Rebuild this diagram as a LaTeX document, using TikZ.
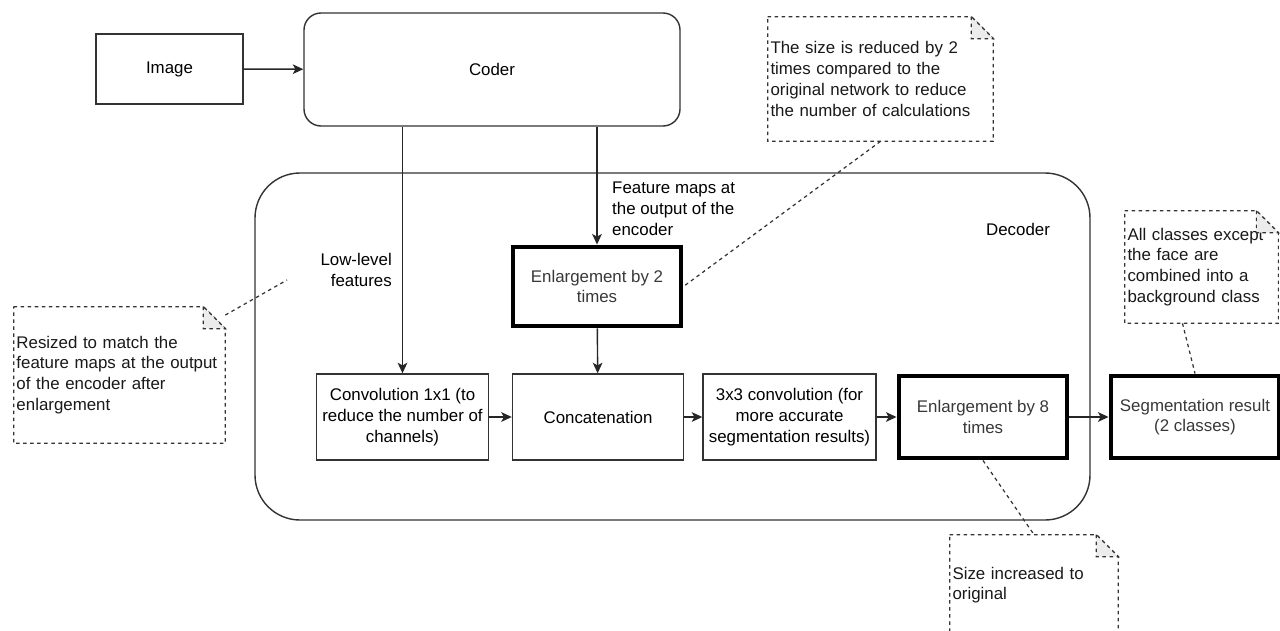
\documentclass[tikz,border=0pt]{standalone}
\usepackage{fontspec}
\setmainfont{Liberation Sans}
\usepackage{tikz}
\usetikzlibrary{arrows.meta}
\usetikzlibrary{calc}
\tikzset{every node/.style={font=\fontsize{9.6}{11.8}\selectfont}}
\tikzset{plainbox/.style={draw=black!80, line width=0.8pt, minimum width=3.42cm, minimum height=1.72cm, align=center}}
\tikzset{boldbox/.style={draw=black, line width=2.8pt, minimum width=3.36cm, minimum height=1.64cm, align=center, text=black!78}}
\tikzset{roundbox/.style={draw=black!80, line width=0.8pt, rounded corners=0.34cm, align=center}}
\tikzset{memo/.style={inner xsep=0.05cm, align=left, text=black!90}}
\tikzset{memoline/.style={draw=black!80, line width=0.7pt, dash pattern=on 2pt off 2pt}}
\tikzset{flow/.style={draw=black!85, line width=0.8pt, -{Stealth[length=6pt, width=5.5pt, inset=1.5pt]}}}

\begin{document}
\begin{tikzpicture}

\useasboundingbox (0, 0) rectangle (25.6, 12.6);

\node[roundbox, rounded corners=0.9cm, minimum width=16.7cm, minimum height=6.94cm] (decoder) at (13.45, 5.67) {};
\node[] (declab) at (20.36, 8.02) {Decoder};

\node[plainbox, minimum width=2.94cm, minimum height=1.4cm] (img) at (3.39, 11.22) {Image};
\node[roundbox, minimum width=7.52cm, minimum height=2.26cm] (coder) at (9.84, 11.21) {Coder};

\node[boldbox, minimum height=1.58cm] (enl2) at (11.94, 6.87) {Enlargement by 2\\times};
\node[plainbox] (conv1) at (8.05, 4.26) {Convolution 1x1 (to\\reduce the number of\\channels)};
\node[plainbox] (concat) at (11.96, 4.26) {Concatenation};
\node[plainbox] (conv3) at (15.79, 4.26) {3x3 convolution (for\\more accurate\\segmentation results)};
\node[boldbox] (enl8) at (19.66, 4.26) {Enlargement by 8\\times};
\node[boldbox] (seg) at (23.9, 4.26) {Segmentation result\\(2 classes)};

\node[anchor=east, align=right] (lowlab) at (7.96, 7.2) {Low-level\\features};
\node[anchor=west, align=left] (fmaps) at (12.12, 8.42) {Feature maps at\\the output of the\\encoder};
\coordinate (lowpt) at (5.74, 7.0);

\draw[flow] (img) to (coder);
\draw[flow] (conv1 |- coder.south) to (conv1.north);
\draw[flow] (enl2 |- coder.south) to (enl2.north);
\draw[flow] (enl2) to (concat);
\draw[flow] (conv1) to (concat);
\draw[flow] (concat) to (conv3);
\draw[flow] (conv3) to (enl8);
\draw[flow] (enl8) to (seg);

\node[memo, text width=4.4cm, minimum height=2.48cm] (noteA) at (17.61, 11.02) {The size is reduced by 2\\times compared to the\\original network to reduce\\the number of calculations};
\node[memo, text width=4.12cm, minimum height=2.72cm] (noteB) at (2.39, 5.1) {Resized to match the\\feature maps at the output\\of the encoder after\\enlargement};
\node[memo, text width=2.96cm, minimum height=2.24cm] (noteC) at (24.03, 7.26) {All classes except\\the face are\\combined into a\\background class};
\node[memo, text width=3.26cm, minimum height=2.0cm] (noteD) at (20.68, 0.9) {Size increased to\\original};

\foreach \n in {noteA, noteB, noteC, noteD} {
  \draw[memoline] (\n.north west) -- ([xshift=-0.44cm]\n.north east) -- ([yshift=-0.44cm]\n.north east) -- (\n.south east) -- (\n.south west) -- cycle;
  \draw[memoline, fill=gray!15] ([xshift=-0.44cm]\n.north east) -- ([xshift=-0.44cm, yshift=-0.44cm]\n.north east) -- ([yshift=-0.44cm]\n.north east) -- cycle;
}

\draw[memoline] (noteA.south) to (enl2.east);
\draw[memoline] (noteB) to (lowpt);
\draw[memoline] ([xshift=-0.38cm]noteC.south) to (seg.north);
\draw[memoline] (enl8.south) to (noteD.north);

\end{tikzpicture}
\end{document}
